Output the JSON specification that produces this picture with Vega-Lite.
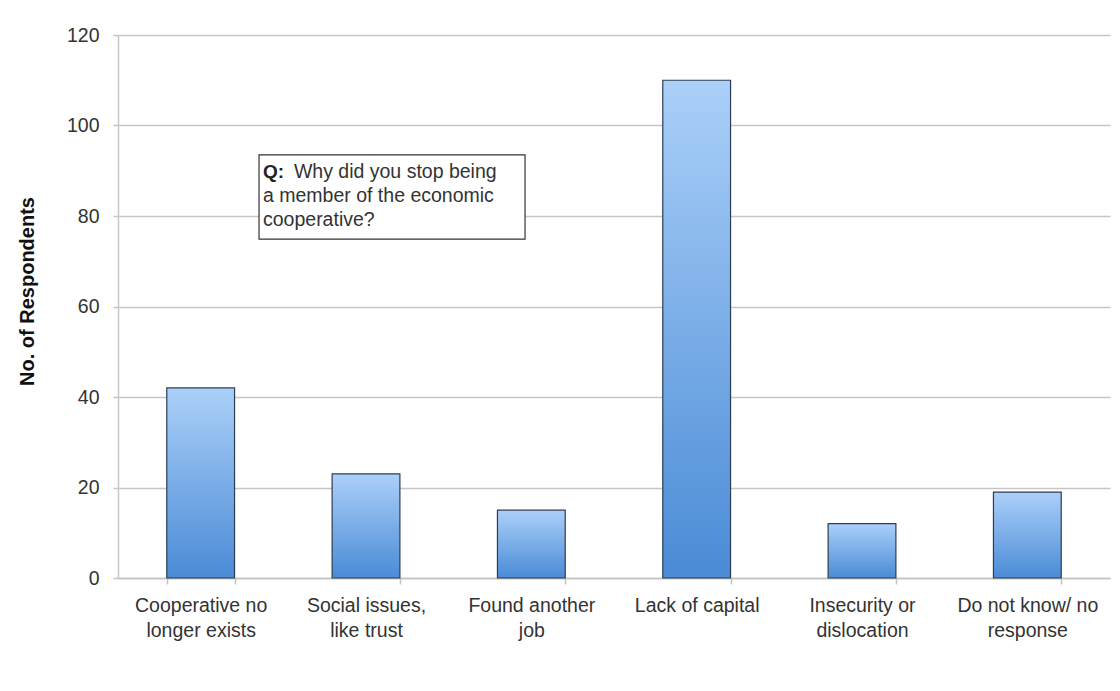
{
  "$schema": "https://vega.github.io/schema/vega-lite/v6.json",
  "width": 992,
  "height": 543,
  "autosize": {"type": "none"},
  "padding": {"left": 118, "top": 35, "right": 10, "bottom": 113},
  "background": "white",
  "config": {"view": {"stroke": null}, "font": "Liberation Sans"},
  "datasets": {
    "responses": [
      {"reason": "Cooperative no longer exists", "respondents": 42},
      {"reason": "Social issues, like trust", "respondents": 23},
      {"reason": "Found another job", "respondents": 15},
      {"reason": "Lack of capital", "respondents": 110},
      {"reason": "Insecurity or dislocation", "respondents": 12},
      {"reason": "Do not know/ no response", "respondents": 19}
    ],
    "box": [{"x0": 0.853, "x1": 2.462, "y0": 93.5, "y1": 74.9}],
    "qmark": [{"x": 0.877, "y": 89.7, "text": "Q:"}],
    "question": [
      {"x": 1.064, "y": 89.7, "text": "Why did you stop being"},
      {"x": 0.877, "y": 84.4, "text": "a member of the economic"},
      {"x": 0.877, "y": 79.1, "text": "cooperative?"}
    ]
  },
  "layer": [
    {
      "data": {"name": "responses"},
      "mark": {
        "type": "bar",
        "fill": {
          "gradient": "linear",
          "x1": 0, "y1": 0, "x2": 0, "y2": 1,
          "stops": [
            {"offset": 0, "color": "#abd0f9"},
            {"offset": 1, "color": "#4a8bd6"}
          ]
        },
        "stroke": "#2d3e52",
        "strokeWidth": 1.2
      },
      "encoding": {
        "x": {
          "field": "reason",
          "type": "nominal",
          "sort": null,
          "scale": {"paddingInner": 0.59, "paddingOuter": 0.295},
          "axis": {
            "title": null,
            "labelAngle": 0,
            "tickBand": "extent",
            "domainColor": "#c2c2c2",
            "domainWidth": 1.5,
            "tickColor": "#c2c2c2",
            "tickWidth": 1.5,
            "tickSize": 6,
            "labelFont": "Liberation Sans",
            "labelFontSize": 19.5,
            "labelColor": "#333333",
            "labelPadding": 12,
            "labelLineHeight": 25,
            "labelLimit": 0,
            "labelExpr": "datum.value == 'Cooperative no longer exists' ? ['Cooperative no','longer exists'] : datum.value == 'Social issues, like trust' ? ['Social issues,','like trust'] : datum.value == 'Found another job' ? ['Found another','job'] : datum.value == 'Insecurity or dislocation' ? ['Insecurity or','dislocation'] : datum.value == 'Do not know/ no response' ? ['Do not know/ no','response'] : datum.value"
          }
        },
        "y": {
          "field": "respondents",
          "type": "quantitative",
          "scale": {"domain": [0, 120]},
          "axis": {
            "values": [0, 20, 40, 60, 80, 100, 120],
            "title": "No. of Respondents",
            "titleFont": "Liberation Sans",
            "titleFontSize": 20,
            "titleFontWeight": "bold",
            "titleColor": "#111111",
            "titleX": -91,
            "titleY": 256,
            "titleAngle": -90,
            "titleAlign": "center",
            "titleBaseline": "middle",
            "grid": true,
            "gridColor": "#c6c6c6",
            "gridWidth": 1.5,
            "domainColor": "#c6c6c6",
            "domainWidth": 1.5,
            "tickColor": "#c6c6c6",
            "tickWidth": 1.5,
            "tickSize": 5,
            "labelPadding": 14,
            "labelFont": "Liberation Sans",
            "labelFontSize": 19.5,
            "labelColor": "#333333"
          }
        }
      }
    },
    {
      "data": {"name": "box"},
      "mark": {"type": "rect", "fill": "white", "stroke": "#333333", "strokeWidth": 1.2},
      "encoding": {
        "x": {"field": "x0", "type": "quantitative", "scale": {"domain": [0, 6]}, "axis": null},
        "x2": {"field": "x1"},
        "y": {"field": "y0", "type": "quantitative", "scale": {"domain": [0, 120]}, "axis": null},
        "y2": {"field": "y1"}
      }
    },
    {
      "data": {"name": "qmark"},
      "mark": {"type": "text", "align": "left", "baseline": "middle", "font": "Liberation Sans", "fontSize": 19, "fontWeight": "bold", "color": "#222222"},
      "encoding": {
        "x": {"field": "x", "type": "quantitative", "scale": {"domain": [0, 6]}, "axis": null},
        "y": {"field": "y", "type": "quantitative", "scale": {"domain": [0, 120]}, "axis": null},
        "text": {"field": "text"}
      }
    },
    {
      "data": {"name": "question"},
      "mark": {"type": "text", "align": "left", "baseline": "middle", "font": "Liberation Sans", "fontSize": 19.5, "color": "#333333"},
      "encoding": {
        "x": {"field": "x", "type": "quantitative", "scale": {"domain": [0, 6]}, "axis": null},
        "y": {"field": "y", "type": "quantitative", "scale": {"domain": [0, 120]}, "axis": null},
        "text": {"field": "text"}
      }
    }
  ],
  "resolve": {"scale": {"x": "independent", "y": "independent"}}
}
